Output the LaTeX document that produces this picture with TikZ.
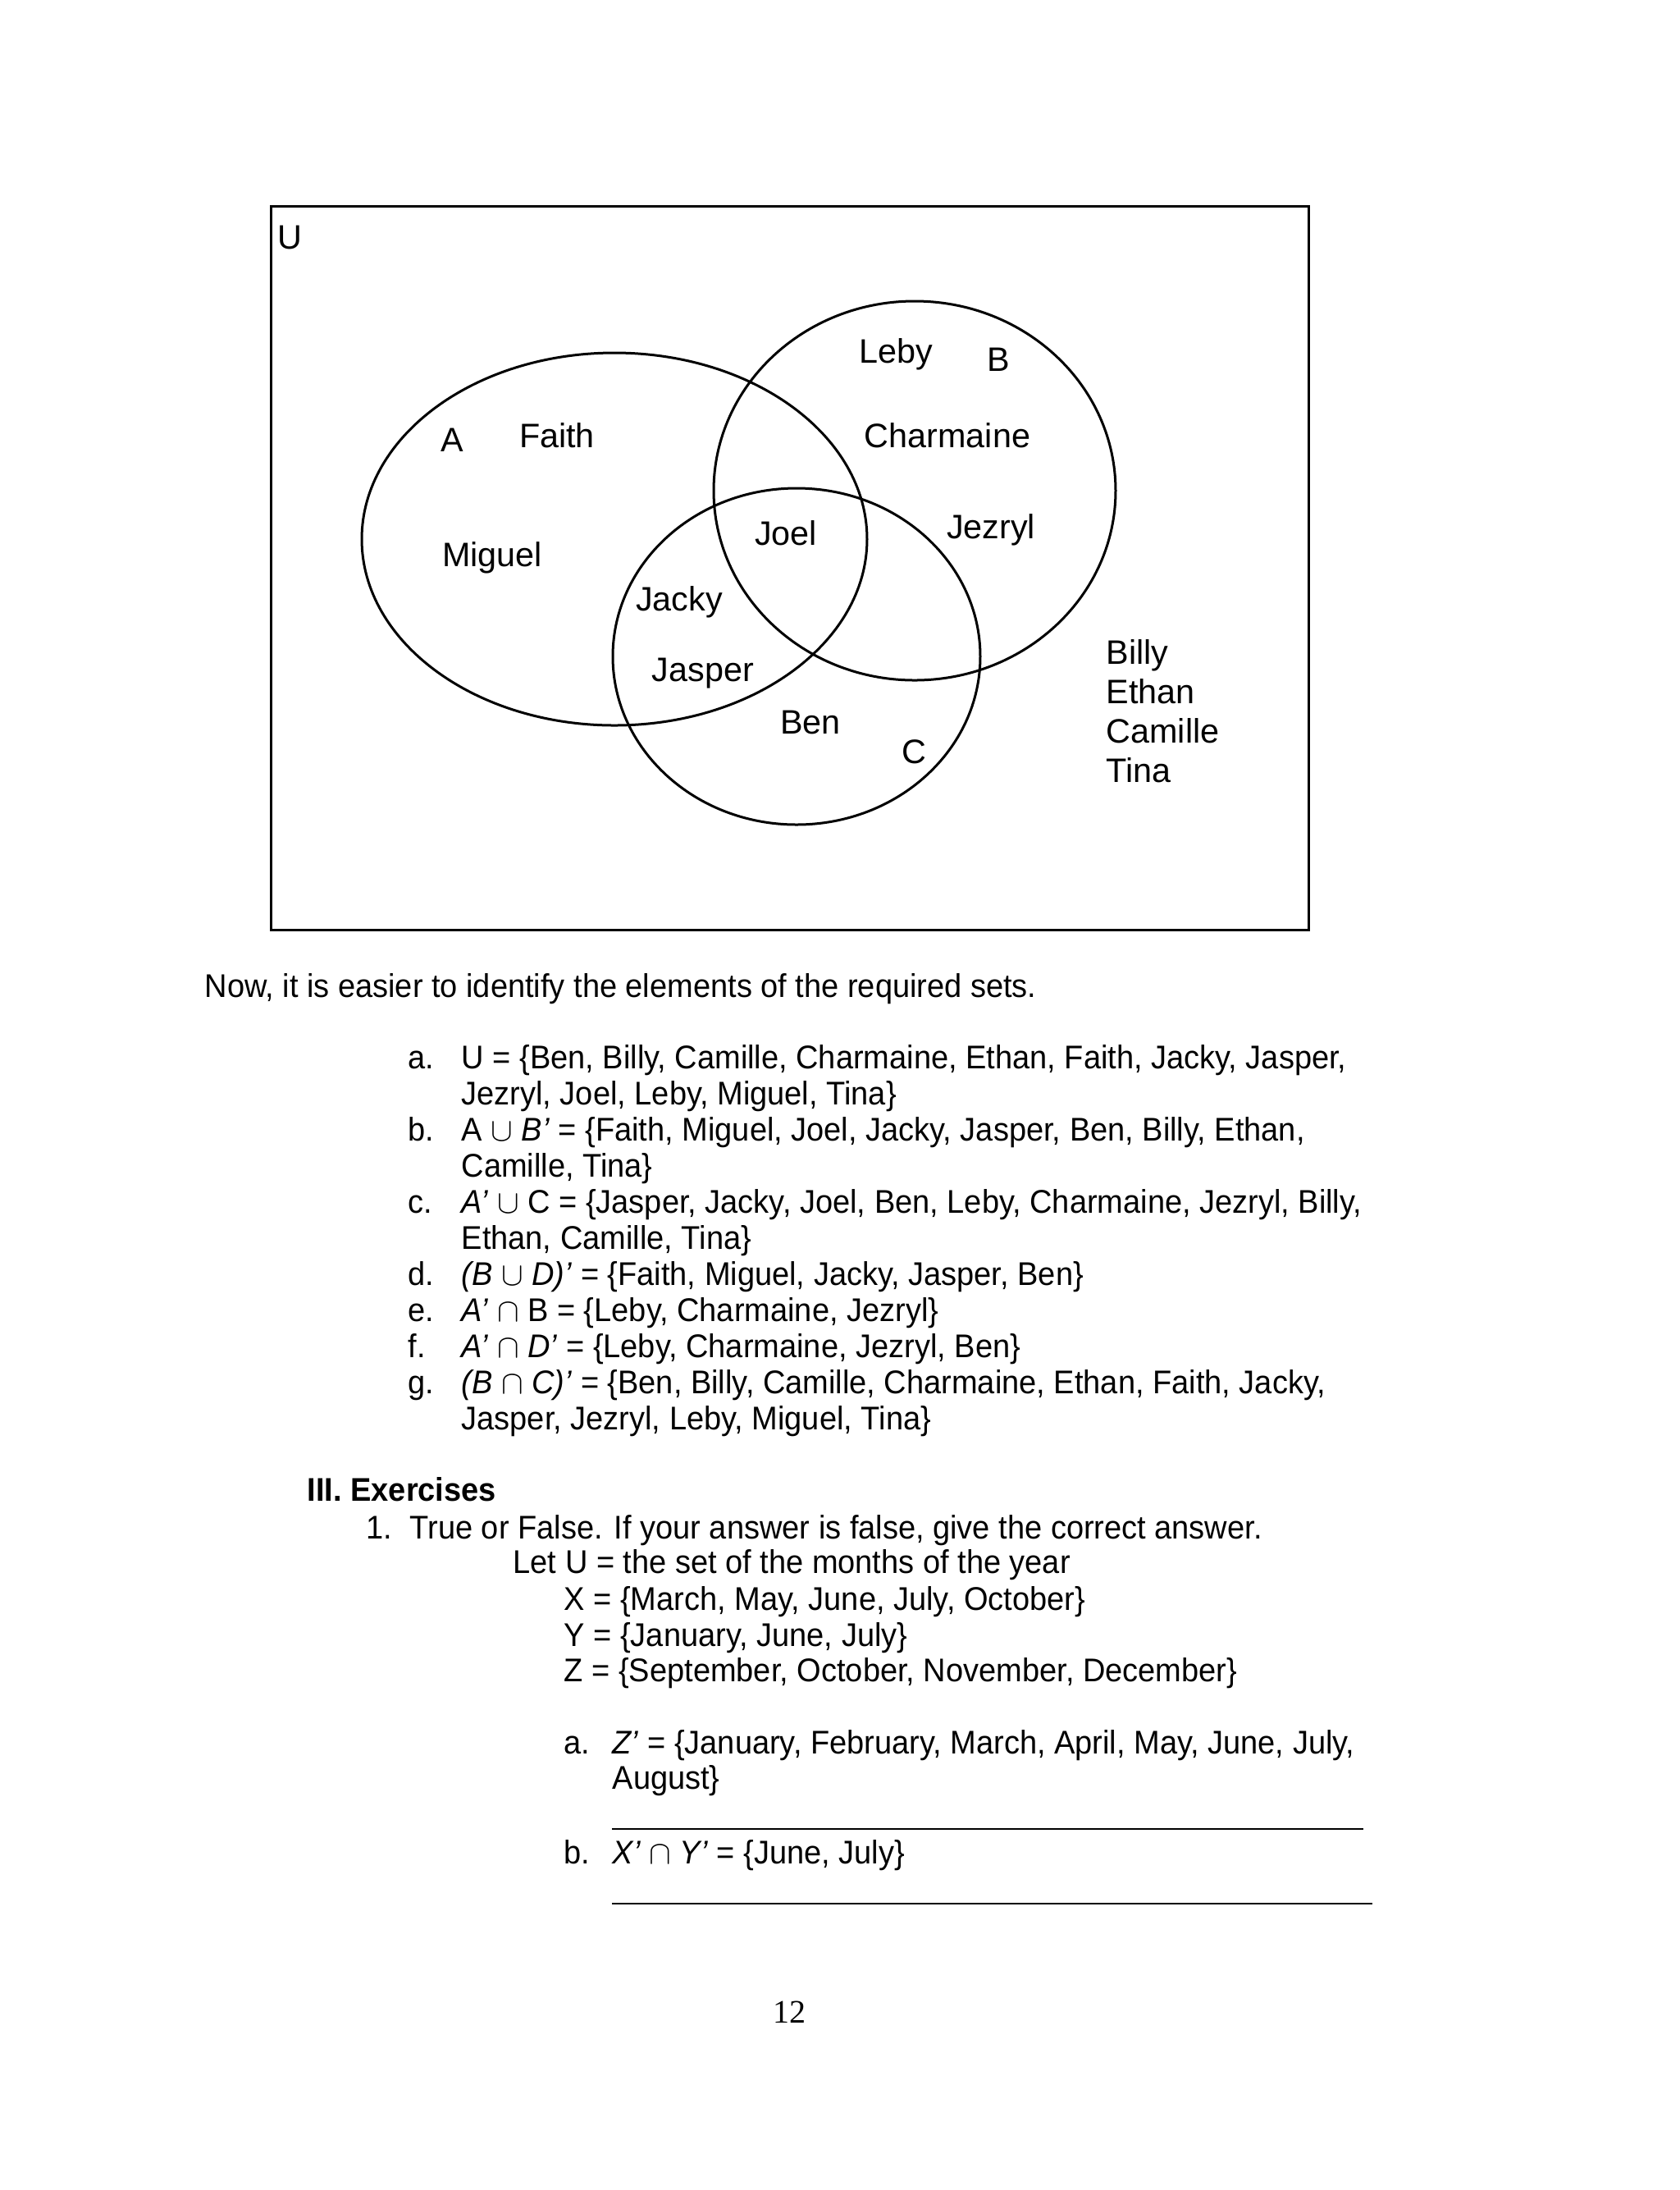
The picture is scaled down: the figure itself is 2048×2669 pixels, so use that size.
\documentclass[tikz,border=0pt]{standalone}
\usepackage{fontspec}
\setmainfont{Liberation Sans}
\newfontfamily\bodyfont[FakeStretch=0.95]{Liberation Sans}
\newfontfamily\pagefont{Liberation Serif}
\usetikzlibrary{positioning}

\begin{document}
\begin{tikzpicture}[x=0.010542cm,y=-0.010542cm,
  set/.style={line width=0.9pt},
  lbl/.style={anchor=base,inner sep=0pt,font=\fontsize{12.4}{14}\selectfont},
  elem/.style={anchor=base west,inner sep=0pt,font=\fontsize{12.4}{14}\selectfont},
  txt/.style={anchor=base west,inner sep=0pt,font=\bodyfont\fontsize{12}{14}\selectfont}]
\useasboundingbox (0,0) rectangle (2048,2669);

%Venn diagram:
\draw[set] (330,251) rectangle (1595,1133);
\coordinate (A) at (749,657);
\coordinate (B) at (1115,598);
\coordinate (C) at (971,800);
\draw[set] (A) ellipse [x radius=308, y radius=227];
\draw[set] (B) ellipse [x radius=245, y radius=231];
\draw[set] (C) ellipse [x radius=224, y radius=205];

\node[elem] (u) at (338,303) {U};
\node[lbl] (setA) at (551,550) {A};
\node[lbl] (setB) at (1217,452) {B};
\node[lbl] (setC) at (1114,930) {C};
\node[lbl] (faith) at (679,545) {Faith};
\node[lbl] (leby) at (1092,442) {Leby};
\node[lbl] (charmaine) at (1155,545) {Charmaine};
\node[lbl] (joel) at (958,664) {Joel};
\node[lbl] (jezryl) at (1208,656) {Jezryl};
\node[lbl] (miguel) at (600,690) {Miguel};
\node[lbl] (jacky) at (828,744) {Jacky};
\node[lbl] (jasper) at (857,830) {Jasper};
\node[lbl] (ben) at (988,894) {Ben};
\node[elem] (billy) at (1348,809) {Billy};
\node[elem] (ethan) at (1348,857) {Ethan};
\node[elem] (camille) at (1348,905) {Camille};
\node[elem] (tina) at (1348,953) {Tina};

%Answers:
\node[txt] (now) at (249,1215) {Now, it is easier to identify the elements of the required sets.};
\node[txt] (ia) at (497,1302) {a.};
\node[txt] (ta) at (562,1302) {U = \{Ben, Billy, Camille, Charmaine, Ethan, Faith, Jacky, Jasper,};
\node[txt] (ta2) at (562,1346) {Jezryl, Joel, Leby, Miguel, Tina\}};
\node[txt] (ib) at (497,1390) {b.};
\node[txt] (tb) at (562,1390) {A $\cup$ \textit{B’} = \{Faith, Miguel, Joel, Jacky, Jasper, Ben, Billy, Ethan,};
\node[txt] (tb2) at (562,1434) {Camille, Tina\}};
\node[txt] (ic) at (497,1478) {c.};
\node[txt] (tc) at (562,1478) {\textit{A’} $\cup$ C = \{Jasper, Jacky, Joel, Ben, Leby, Charmaine, Jezryl, Billy,};
\node[txt] (tc2) at (562,1522) {Ethan, Camille, Tina\}};
\node[txt] (id) at (497,1566) {d.};
\node[txt] (td) at (562,1566) {\textit{(B} $\cup$ \textit{D)’} = \{Faith, Miguel, Jacky, Jasper, Ben\}};
\node[txt] (ie) at (497,1610) {e.};
\node[txt] (te) at (562,1610) {\textit{A’} $\cap$ B = \{Leby, Charmaine, Jezryl\}};
\node[txt] (if) at (497,1654) {f.};
\node[txt] (tf) at (562,1654) {\textit{A’} $\cap$ \textit{D’} = \{Leby, Charmaine, Jezryl, Ben\}};
\node[txt] (ig) at (497,1698) {g.};
\node[txt] (tg) at (562,1698) {\textit{(B} $\cap$ \textit{C)’} = \{Ben, Billy, Camille, Charmaine, Ethan, Faith, Jacky,};
\node[txt] (tg2) at (562,1742) {Jasper, Jezryl, Leby, Miguel, Tina\}};

%Exercises:
\node[txt,font=\bodyfont\fontsize{12}{14}\selectfont\bfseries] (ex) at (374,1829) {III. Exercises};
\node[txt] (n1) at (446,1875) {1.};
\node[txt] (tf1) at (499,1875) {True or False. If your answer is false, give the correct answer.};
\node[txt] (let) at (625,1917) {Let U = the set of the months of the year};
\node[txt] (setX) at (687,1962) {X = \{March, May, June, July, October\}};
\node[txt] (setY) at (687,2006) {Y = \{January, June, July\}};
\node[txt] (setZ) at (687,2049) {Z = \{September, October, November, December\}};
\node[txt] (xa) at (687,2137) {a.};
\node[txt] (za) at (746,2137) {\textit{Z’} = \{January, February, March, April, May, June, July,};
\node[txt] (za2) at (746,2180) {August\}};
\coordinate (la1) at (746,2229);
\coordinate (la2) at (1662,2229);
\draw[line width=0.8pt] (la1) -- (la2);
\node[txt] (xb) at (687,2271) {b.};
\node[txt] (zb) at (746,2271) {\textit{X’} $\cap$ \textit{Y’} = \{June, July\}};
\coordinate (lb1) at (746,2320);
\coordinate (lb2) at (1673,2320);
\draw[line width=0.8pt] (lb1) -- (lb2);

\node[lbl,font=\pagefont\fontsize{12}{14}\selectfont] (page) at (962,2465) {12};
\end{tikzpicture}
\end{document}
